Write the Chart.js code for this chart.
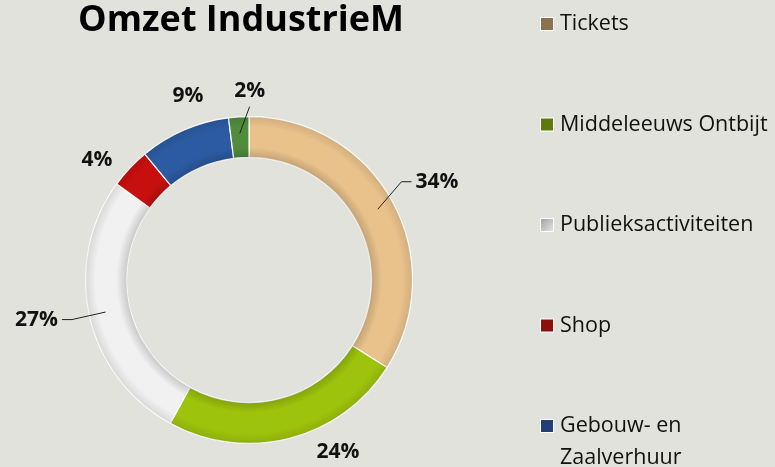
<!DOCTYPE html>
<html>
<head>
<meta charset="utf-8">
<script src="https://cdn.jsdelivr.net/npm/chart.js@4/dist/chart.umd.min.js"></script>
<style>
  html, body { margin: 0; padding: 0; background: #e2e2dc; }
  #wrap { width: 775px; height: 467px; }
</style>
</head>
<body>
<div id="wrap"><canvas id="omzetChart" width="775" height="467"></canvas></div>
<script>
const categories = ["Tickets", "Middeleeuws Ontbijt", "Publieksactiviteiten", "Shop", "Gebouw- en Zaalverhuur", "Overig"];
const shares = [34, 24, 27, 4, 9, 2];
const colors = ["#e9c28b", "#9dc30c", "#f1f1f1", "#c80f0f", "#2c5ba3", "#4f8c3c"];
const legendColors = ["#8a744f", "#5c7a10", "#a0a0a0", "#8a1010", "#223f78", "#3b6a2a"];
// label placement: leader line or not, and a small turn (degrees) off the slice middle
const leaderLines = [true, false, true, false, false, true];
const labelTurn = [-4, -13, 0, -5, 5, 0];

const chartTitle = "Omzet IndustrieM";

const extras = {
  id: "extras",
  afterDatasetsDraw(chart) {
    const ctx = chart.ctx;
    const meta = chart.getDatasetMeta(0);
    ctx.save();

    // soft bevel over the ring
    const a0 = meta.data[0].getProps(["x", "y", "innerRadius", "outerRadius"], true);
    const rg = ctx.createRadialGradient(a0.x, a0.y, a0.innerRadius, a0.x, a0.y, a0.outerRadius);
    rg.addColorStop(0, "rgba(0,0,0,0.16)");
    rg.addColorStop(0.25, "rgba(0,0,0,0)");
    rg.addColorStop(0.75, "rgba(0,0,0,0)");
    rg.addColorStop(1, "rgba(0,0,0,0.10)");
    ctx.fillStyle = rg;
    ctx.beginPath();
    ctx.arc(a0.x, a0.y, a0.outerRadius, 0, Math.PI * 2);
    ctx.arc(a0.x, a0.y, a0.innerRadius, 0, Math.PI * 2, true);
    ctx.fill();

    // percentage labels outside the ring
    ctx.font = "bold 21px 'Open Sans'";
    ctx.fillStyle = "#111";
    ctx.textAlign = "center";
    ctx.textBaseline = "middle";
    meta.data.forEach((arc, i) => {
      const { x, y, startAngle, endAngle, innerRadius, outerRadius } = arc.getProps(["x", "y", "startAngle", "endAngle", "innerRadius", "outerRadius"], true);
      const mid = (startAngle + endAngle) / 2;
      const turned = mid + labelTurn[i] * Math.PI / 180;
      const text = shares[i] + "%";
      if (leaderLines[i]) {
        const cos0 = Math.cos(mid), sin0 = Math.sin(mid);
        const cos = Math.cos(turned), sin = Math.sin(turned);
        const r0 = (innerRadius + outerRadius) / 2 + 4;
        const ex = x + cos * (outerRadius + 18), ey = y + sin * (outerRadius + 18);
        ctx.strokeStyle = "#222";
        ctx.lineWidth = 1;
        ctx.beginPath();
        ctx.moveTo(x + cos0 * r0, y + sin0 * r0);
        if (Math.abs(cos) > 0.5) {
          ctx.lineTo(ex, ey);
          ctx.lineTo(ex + Math.sign(cos) * 10, ey);
          ctx.stroke();
          const w = ctx.measureText(text).width;
          ctx.fillText(text, ex + Math.sign(cos) * (14 + w / 2), ey);
        } else {
          const tx = ex + 12, ty = y - outerRadius - 10;
          ctx.lineTo(tx, ty);
          ctx.stroke();
          ctx.fillText(text, tx, ty - 16);
        }
      } else {
        const dist = outerRadius + 30;
        ctx.fillText(text, x + Math.cos(turned) * dist, y + Math.sin(turned) * dist);
      }
    });

    // title
    ctx.font = "bold 36px 'Open Sans'";
    ctx.fillStyle = "#000";
    ctx.textAlign = "center";
    ctx.fillText(chartTitle, 241, 21);

    // legend on the right
    ctx.font = "21.5px 'Open Sans'";
    ctx.textAlign = "left";
    const lx = 540, step = 100.5, maxW = 775 - 560;
    categories.forEach((label, i) => {
      const cy = 24 + i * step;
      ctx.fillStyle = "#fff";
      ctx.fillRect(lx, cy - 7, 14, 14);
      const g = ctx.createLinearGradient(lx, cy - 6, lx + 12, cy + 6);
      g.addColorStop(0, legendColors[i]);
      g.addColorStop(1, colors[i] === "#f1f1f1" ? "#e0e0e0" : legendColors[i]);
      ctx.fillStyle = g;
      ctx.fillRect(lx + 1, cy - 6, 12, 12);
      ctx.fillStyle = "#111";
      // simple word wrap
      const words = label.split(" ");
      let line = "", lines = [];
      words.forEach(wd => {
        const test = line ? line + " " + wd : wd;
        if (ctx.measureText(test).width > maxW && line) { lines.push(line); line = wd; }
        else line = test;
      });
      lines.push(line);
      lines.forEach((t, j) => ctx.fillText(t, 560, cy + j * 32));
    });
    ctx.restore();
  }
};

new Chart(document.getElementById("omzetChart"), {
  type: "doughnut",
  data: {
    labels: categories,
    datasets: [{
      data: shares,
      backgroundColor: colors,
      borderColor: "#ffffff",
      borderWidth: 1.2
    }]
  },
  options: {
    responsive: false,
    animation: false,
    cutout: "75%",
    layout: { padding: { top: 116, bottom: 23, left: 85, right: 362 } },
    plugins: {
      legend: { display: false },
      tooltip: { enabled: false }
    }
  },
  plugins: [extras]
});
</script>
</body>
</html>
